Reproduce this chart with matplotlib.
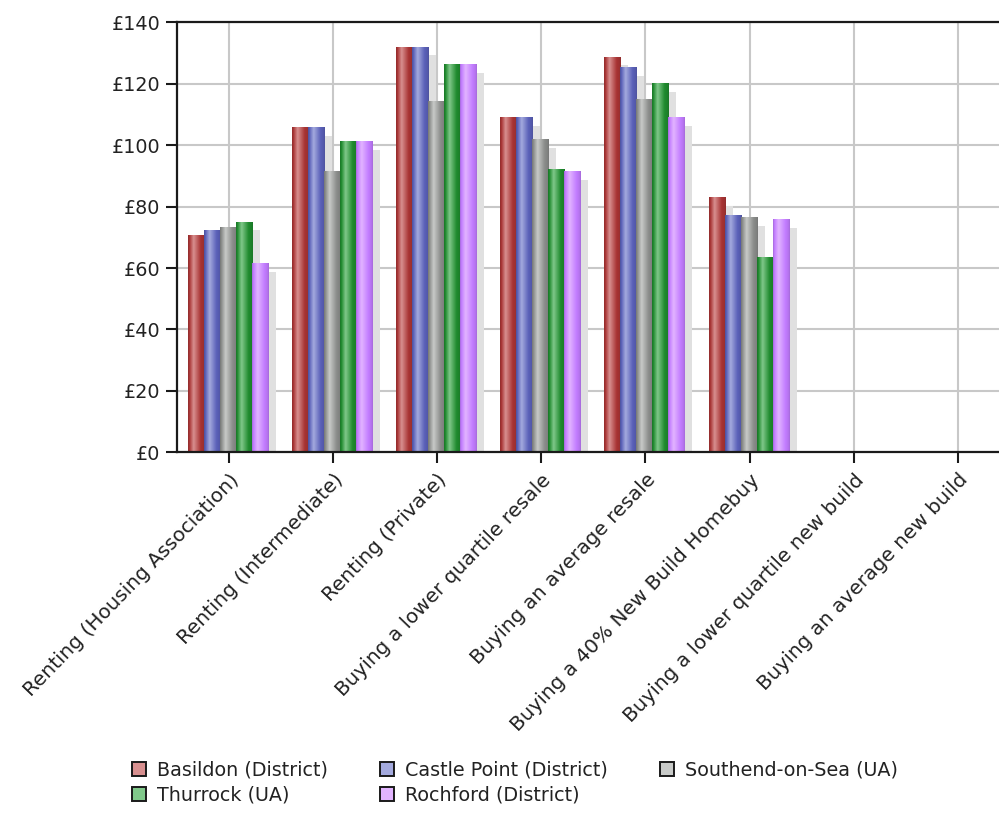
import matplotlib
matplotlib.use("Agg")
import matplotlib.pyplot as plt
import numpy as np
from matplotlib.patches import Patch
from matplotlib.transforms import offset_copy
from matplotlib.colors import to_rgb

# ---- data -------------------------------------------------------------
categories = [
    "Renting (Housing Association)",
    "Renting (Intermediate)",
    "Renting (Private)",
    "Buying a lower quartile resale",
    "Buying an average resale",
    "Buying a 40% New Build Homebuy",
    "Buying a lower quartile new build",
    "Buying an average new build",
]
series_names = [
    "Basildon (District)",
    "Castle Point (District)",
    "Southend-on-Sea (UA)",
    "Thurrock (UA)",
    "Rochford (District)",
]
basildon = [70.4, 105.7, 131.9, 109.0, 128.6, 82.9, 0, 0]
castle_point = [72.3, 105.7, 131.9, 109.0, 125.3, 77.0, 0, 0]
southend = [73.0, 91.4, 114.2, 101.8, 114.9, 76.4, 0, 0]
thurrock = [74.9, 101.0, 126.1, 92.0, 120.1, 63.3, 0, 0]
rochford = [61.4, 101.0, 126.1, 91.4, 109.0, 75.7, 0, 0]
series_values = [basildon, castle_point, southend, thurrock, rochford]

y_ticks = [0, 20, 40, 60, 80, 100, 120, 140]
y_tick_labels = ["£0", "£20", "£40", "£60", "£80", "£100", "£120", "£140"]

# (edge / base, highlight) colour for each series
base_colors = ["#a83434", "#5a60b8", "#8a8c8a", "#1f8a2e", "#c27cff"]
light_colors = ["#d89090", "#a4aade", "#c8cac8", "#80c88a", "#e2b4ff"]

# ---- figure -----------------------------------------------------------
plt.rcParams["font.family"] = ["DejaVu Sans"]
fig = plt.figure(figsize=(9.99, 8.14), dpi=100)
ax = fig.add_axes([0.177, 0.4444, 0.834, 0.528])

n_series = len(series_names)
bar_w = 0.1537
x = np.arange(len(categories))
offsets = (np.arange(n_series) - (n_series - 1) / 2) * bar_w - 0.01

shadow_tr = offset_copy(ax.transData, fig=fig, x=8, y=-8, units="dots")


def bar_gradient(base, light, n=64):
    b = np.array(to_rgb(base))
    l = np.array(to_rgb(light))
    dark = b * 0.85
    t = np.linspace(0, 1, n)
    stops = np.array([0.0, 0.08, 0.33, 0.75, 0.94, 1.0])
    cols = np.array([dark, b, l, b, b * 0.92, dark])
    rgb = np.stack([np.interp(t, stops, cols[:, k]) for k in range(3)], axis=-1)
    return rgb[np.newaxis, :, :]


for i in range(n_series):
    vals = series_values[i]
    xs = x + offsets[i]
    # drop shadows
    ax.bar(xs, vals, width=bar_w, color="#e0e0e0", linewidth=0,
           transform=shadow_tr, zorder=1)

for i in range(n_series):
    vals = series_values[i]
    xs = x + offsets[i]
    grad = bar_gradient(base_colors[i], light_colors[i])
    for xc, v in zip(xs, vals):
        if v <= 0:
            continue
        ax.imshow(grad, extent=[xc - bar_w / 2, xc + bar_w / 2, 0, v],
                  aspect="auto", interpolation="bilinear", zorder=2)

ax.set_xlim(-0.5, 7.5)
ax.set_ylim(0, 140)

ax.set_yticks(y_ticks)
ax.set_yticklabels(y_tick_labels)
ax.set_xticks(x)
ax.set_xticklabels(categories, rotation=46, ha="right", rotation_mode="anchor",
                   fontsize=14.4)

ax.grid(True, color="#c8c8c8", linewidth=1.5, zorder=0)
ax.set_axisbelow(True)

for side in ["left", "bottom", "top"]:
    ax.spines[side].set_color("#1a1a1a")
    ax.spines[side].set_linewidth(1.6)
ax.spines["right"].set_visible(False)

ax.tick_params(axis="both", direction="out", length=8, width=1.5,
               color="#1a1a1a", labelcolor="#222222")
ax.tick_params(axis="y", pad=4, labelsize=13.8)
ax.tick_params(axis="x", pad=5)

# legend (row-wise order)
handles = [Patch(facecolor=light_colors[i], edgecolor="#1a1a1a", linewidth=1.4,
                 label=series_names[i]) for i in range(n_series)]
order = [0, 3, 1, 4, 2]
fig.legend([handles[k] for k in order], [series_names[k] for k in order],
           loc="upper left", bbox_to_anchor=(0.132, 0.0655), ncol=3,
           frameon=False, fontsize=13.8, handlelength=0.72, handleheight=0.72,
           handletextpad=0.6, columnspacing=2.7, labelspacing=0.3,
           borderpad=0, borderaxespad=0, labelcolor="#222222")

fig.savefig("out.png", dpi=100)
